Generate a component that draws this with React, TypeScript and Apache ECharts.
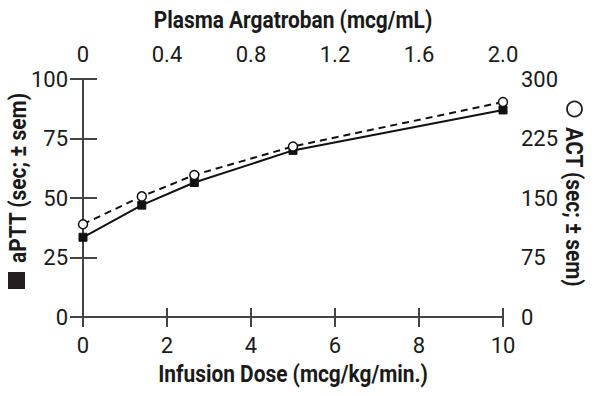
import React, { useEffect, useRef } from "react";
import * as echarts from "echarts";

const doses = [0, 1.4, 2.65, 5, 10];
const apttValues = [33.5, 47, 56.5, 70, 87];
const actValues = [117, 152, 179, 215, 271];

const topTitle = "Plasma Argatroban (mcg/mL)";
const bottomTitle = "Infusion Dose (mcg/kg/min.)";
const leftTitle = "aPTT (sec; ± sem)";
const rightTitle = "ACT (sec; ± sem)";

const FONT = "Roboto, 'Liberation Sans', sans-serif";
const AXIS_COLOR = "#444";
const TEXT_COLOR = "#1a1a1a";

export default function App() {
  const ref = useRef<HTMLDivElement>(null);
  useEffect(() => {
    if (!ref.current) return;
    const chart = echarts.init(ref.current, null, { renderer: "svg" });
    const labelStyle = { fontFamily: FONT, fontSize: 22, color: TEXT_COLOR };
    const axisLine = { show: true, lineStyle: { color: AXIS_COLOR, width: 2 } };
    const hiddenLabels = { show: false };
    const mkX = (pos: "bottom" | "top", min: number, max: number, interval: number, inside: boolean, len: number, margin: number, fmt?: any) => ({
      type: "value",
      position: pos,
      min,
      max,
      interval,
      axisLine,
      axisTick: { show: true, inside, length: len, lineStyle: { color: AXIS_COLOR, width: 2 } },
      axisLabel: inside ? hiddenLabels : { ...labelStyle, margin, formatter: fmt },
      splitLine: { show: false },
    });
    const mkY = (pos: "left" | "right", min: number, max: number, interval: number, inside: boolean, len: number, margin: number) => ({
      type: "value",
      position: pos,
      min,
      max,
      interval,
      axisLine,
      axisTick: { show: true, inside, length: len, lineStyle: { color: AXIS_COLOR, width: 2 } },
      axisLabel: inside ? hiddenLabels : { ...labelStyle, margin },
      splitLine: { show: false },
    });
    const titleFont = `bold 24px ${FONT}`;
    const sx = 0.87;
    const option: any = {
      animation: false,
      backgroundColor: "#fff",
      grid: { left: 83, right: 97, top: 79, bottom: 79, containLabel: false },
      xAxis: [
        mkX("bottom", 0, 10, 2, false, 10, 17),
        mkX("top", 0, 2, 0.4, false, 9, 14, (v: number) => (v === 0 ? "0" : v.toFixed(1))),
        mkX("bottom", 0, 10, 2, true, 7, 0),
        mkX("top", 0, 2, 0.4, true, 7, 0),
      ],
      yAxis: [
        mkY("left", 0, 100, 25, false, 13, 15),
        mkY("right", 0, 300, 75, false, 14, 18),
        mkY("left", 0, 100, 25, true, 10, 0),
        mkY("right", 0, 300, 75, true, 10, 0),
      ],
      graphic: [
        {
          type: "text",
          x: 293,
          y: 19,
          scaleX: sx,
          style: { text: topTitle, font: titleFont, fill: TEXT_COLOR, align: "center", verticalAlign: "middle" },
        },
        {
          type: "text",
          x: 293,
          y: 373,
          scaleX: sx,
          style: { text: bottomTitle, font: titleFont, fill: TEXT_COLOR, align: "center", verticalAlign: "middle" },
        },
        {
          type: "text",
          x: 17,
          y: 178,
          rotation: Math.PI / 2,
          scaleX: sx,
          style: { text: leftTitle, font: titleFont, fill: TEXT_COLOR, align: "center", verticalAlign: "middle" },
        },
        {
          type: "rect",
          shape: { x: 8, y: 272, width: 17, height: 17 },
          style: { fill: "#231f20" },
        },
        {
          type: "text",
          x: 575,
          y: 207,
          rotation: -Math.PI / 2,
          scaleX: sx,
          style: { text: rightTitle, font: titleFont, fill: TEXT_COLOR, align: "center", verticalAlign: "middle" },
        },
        {
          type: "circle",
          shape: { cx: 574.5, cy: 109, r: 7.5 },
          style: { fill: "#fff", stroke: "#231f20", lineWidth: 1.8 },
        },
      ],
      series: [
        {
          type: "line",
          name: "ACT",
          xAxisIndex: 0,
          yAxisIndex: 1,
          data: doses.map((d, i) => [d, actValues[i]]),
          symbol: "circle",
          symbolSize: 9,
          lineStyle: { color: "#111", width: 2, type: [7, 5] },
          itemStyle: { color: "#fff", borderColor: "#111", borderWidth: 1.5 },
          z: 3,
        },
        {
          type: "line",
          name: "aPTT",
          xAxisIndex: 0,
          yAxisIndex: 0,
          data: doses.map((d, i) => [d, apttValues[i]]),
          symbol: "rect",
          symbolSize: 8,
          lineStyle: { color: "#111", width: 2 },
          itemStyle: { color: "#111", borderColor: "#111", borderWidth: 1 },
          z: 2,
        },
      ],
    };
    chart.setOption(option);
    return () => chart.dispose();
  }, []);
  return <div ref={ref} style={{ position: "fixed", left: 0, top: 0, width: 600, height: 396 }} />;
}
